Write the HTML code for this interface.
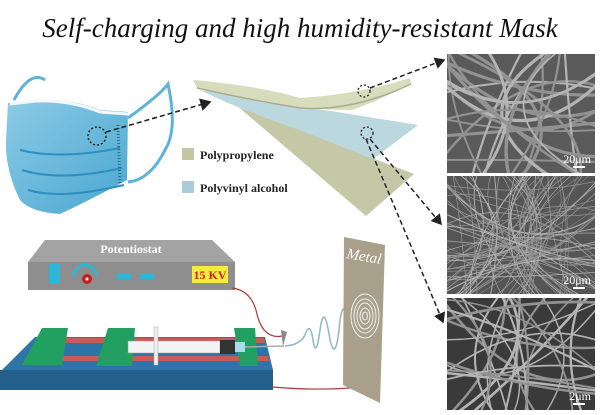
<!DOCTYPE html>
<html><head><meta charset="utf-8"><style>
html,body{margin:0;padding:0;background:#fff;width:600px;height:415px;overflow:hidden}
svg{display:block}
</style></head><body>
<svg width="600" height="415" viewBox="0 0 600 415" xmlns="http://www.w3.org/2000/svg">
<defs>
<linearGradient id="mk" x1="0" y1="0" x2="1" y2="1"><stop offset="0" stop-color="#8ccbe6"/><stop offset="1" stop-color="#4aa6d0"/></linearGradient>
<marker id="ah" markerWidth="8" markerHeight="8" refX="6" refY="4" orient="auto"><path d="M0,0 L7,4 L0,8 Z" fill="#222"/></marker>
</defs>
<text x="300" y="37" text-anchor="middle" font-family="Liberation Serif,serif" font-style="italic" font-size="27" fill="#111">Self-charging and high humidity-resistant Mask</text>

<!-- mask -->
<path d="M14,100 Q30,70 45,80" stroke="#5fb2dc" stroke-width="3" fill="none"/>
<path d="M128,118 Q160,95 168,84 Q178,130 165,150 Q150,180 128,182" stroke="#5fb2dc" stroke-width="3" fill="none"/>
<path d="M8,103 L35,100 Q70,98 100,110 L128,112 L127,180 Q90,200 60,214 Q30,212 20,200 Q5,170 6,140 Z" fill="url(#mk)"/>
<path d="M10,104 L36,101 Q70,100 100,112 L128,114" stroke="#f4f8fa" stroke-width="3" fill="none"/>
<path d="M20,150 Q60,160 120,148 M22,170 Q60,182 122,168 M28,190 Q60,200 124,185" stroke="#2f8ec0" stroke-width="2" fill="none"/>
<path d="M118,125 L120,185" stroke="#2a6f99" stroke-width="3" stroke-dasharray="1 2" fill="none"/>
<circle cx="97" cy="136" r="9" fill="none" stroke="#222" stroke-width="1.5" stroke-dasharray="2 2"/>
<line x1="106" y1="132" x2="210" y2="102" stroke="#222" stroke-width="1.6" stroke-dasharray="5 3" marker-end="url(#ah)"/>

<!-- sheets -->
<path d="M235,104 L372,158 L414,174 L366,216 Z" fill="#c4c8a6"/>
<path d="M200,90 L418,125 L373,159 L300,130 Q240,110 200,90 Z" fill="#bcd8df"/>
<path d="M193,80 Q260,86 300,98 Q360,94 410,78 L411,84 Q380,100 352,110 Q300,110 250,100 Q215,93 197,88 Z" fill="#d7dcbd"/>
<path d="M197,88 Q250,100 300,108 Q352,112 411,84" stroke="#a9ad8e" stroke-width="1.5" fill="none"/>
<circle cx="364" cy="91" r="6" fill="none" stroke="#222" stroke-width="1.3" stroke-dasharray="2 2"/>
<circle cx="367" cy="133" r="6" fill="none" stroke="#222" stroke-width="1.3" stroke-dasharray="2 2"/>
<line x1="370" y1="88" x2="444" y2="60" stroke="#222" stroke-width="1.5" stroke-dasharray="5 3" marker-end="url(#ah)"/>
<line x1="370" y1="139" x2="441" y2="224" stroke="#222" stroke-width="1.5" stroke-dasharray="5 3" marker-end="url(#ah)"/>
<line x1="366" y1="139" x2="443" y2="322" stroke="#222" stroke-width="1.5" stroke-dasharray="5 3" marker-end="url(#ah)"/>

<rect x="182" y="148" width="12" height="12" fill="#c4c5a2"/>
<text x="200" y="159" font-family="Liberation Serif,serif" font-weight="bold" font-size="12" fill="#222">Polypropylene</text>
<rect x="182" y="181" width="12" height="12" fill="#a9cdd6"/>
<text x="200" y="192" font-family="Liberation Serif,serif" font-weight="bold" font-size="12" fill="#222">Polyvinyl alcohol</text>

<!-- potentiostat -->
<path d="M45,240 L212,240 L235,262 L28,262 Z" fill="#a3a3a3"/>
<rect x="28" y="262" width="207" height="28" fill="#8e8e8e"/>
<text x="131" y="253" text-anchor="middle" font-family="Liberation Serif,serif" font-weight="bold" font-size="12" fill="#fff">Potentiostat</text>
<rect x="49" y="264" width="11" height="20" fill="#2eb6d6"/>
<path d="M74,276 A11,11 0 0 1 96,276" stroke="#2eb6d6" stroke-width="3" fill="none"/>
<circle cx="87" cy="279" r="5" fill="#c81e1e"/><circle cx="87" cy="279" r="1.5" fill="#fff"/>
<rect x="117" y="273" width="14" height="6" fill="#2eb6d6"/><rect x="140" y="273" width="14" height="6" fill="#2eb6d6"/>
<rect x="192" y="266" width="36" height="17" fill="#f3ec3c"/>
<text x="210" y="279" text-anchor="middle" font-family="Liberation Serif,serif" font-weight="bold" font-size="12" fill="#d2201e">15 KV</text>
<path d="M232,288 Q250,290 256,310 Q262,340 282,336" stroke="#b23a3a" stroke-width="1.2" fill="none"/>

<!-- base -->
<path d="M35,337 L265,337 L273,370 L0,372 Z" fill="#2d74a8"/>
<rect x="0" y="370" width="273" height="20" fill="#245f8c"/>
<path d="M62,338 L264,338 L265,343 L58,343 Z" fill="#c85a5a"/>
<path d="M45,356 L268,356 L269,361 L40,361 Z" fill="#c85a5a"/>
<path d="M42,328 L68,328 L62,365 L22,365 Z" fill="#22a062"/>
<path d="M108,328 L135,328 L132,366 L96,366 Z" fill="#22a062"/>
<path d="M234,328 L255,328 L258,366 L240,366 Z" fill="#22a062"/>
<rect x="128" y="341" width="92" height="12" fill="#f2f4f5" stroke="#999" stroke-width="0.5"/>
<rect x="220" y="340" width="15" height="14" fill="#333"/>
<rect x="235" y="342" width="10" height="10" fill="#a8dcea"/>
<line x1="245" y1="347" x2="284" y2="346" stroke="#aaa" stroke-width="1.5"/>
<rect x="154" y="327" width="4" height="38" fill="#eee" stroke="#aaa" stroke-width="0.5"/>
<path d="M281,330 L283,346 L287,332 Z" fill="#888"/>
<path d="M285,346 Q300,345 305,335 Q310,320 313,340 Q316,360 320,330 Q324,300 330,340 Q336,365 340,320 Q344,295 350,325 Q355,330 362,318" stroke="#8fb7c7" stroke-width="1.5" fill="none"/>
<path d="M272,387 Q330,392 378,385" stroke="#b23a3a" stroke-width="1.2" fill="none"/>

<!-- metal -->
<path d="M344,237 L385,245 L380,403 L343,385 Z" fill="#a8a08a"/>
<text x="346" y="258" font-family="Liberation Serif,serif" font-style="italic" font-size="15" fill="#fff" transform="rotate(10 346 258)">Metal</text>
<g fill="none" stroke="#eef2f2" stroke-width="1">
<ellipse cx="365" cy="316" rx="14" ry="22"/><ellipse cx="365" cy="316" rx="11" ry="17"/><ellipse cx="365" cy="316" rx="8" ry="13"/><ellipse cx="365" cy="316" rx="5" ry="8"/><ellipse cx="365" cy="316" rx="2.5" ry="4"/>
</g>

<!-- SEM panels -->
<g id="sem"></g>
</svg>
<script>
(function(){
var g=document.getElementById('sem');var ns='http://www.w3.org/2000/svg';
var seed=7;function r(){seed=(seed*16807)%2147483647;return seed/2147483647;}
var P=[[447,54,148,119,'#5a5a5a',26,2.4,'20μm'],[447,176,148,118,'#555555',80,0.8,'20μm'],[447,298,148,112,'#3a3a3a',28,2.0,'2μm']];
P.forEach(function(p){
 var x=p[0],y=p[1],w=p[2],h=p[3];
 var cp=document.createElementNS(ns,'clipPath');cp.id='c'+y;var cr=document.createElementNS(ns,'rect');
 cr.setAttribute('x',x);cr.setAttribute('y',y);cr.setAttribute('width',w);cr.setAttribute('height',h);cp.appendChild(cr);g.appendChild(cp);
 var rc=document.createElementNS(ns,'rect');rc.setAttribute('x',x);rc.setAttribute('y',y);rc.setAttribute('width',w);rc.setAttribute('height',h);rc.setAttribute('fill',p[4]);g.appendChild(rc);
 var gg=document.createElementNS(ns,'g');gg.setAttribute('clip-path','url(#c'+y+')');g.appendChild(gg);
 for(var i=0;i<p[5];i++){var l=document.createElementNS(ns,'path');
  var x1=x+r()*w,x2=x+r()*w,vert=r()<0.6;
  var d=vert?('M'+x1+','+(y-5)+' Q'+(x+r()*w)+','+(y+h/2)+' '+x2+','+(y+h+5)):('M'+(x-5)+','+(y+r()*h)+' Q'+(x+w/2)+','+(y+r()*h)+' '+(x+w+5)+','+(y+r()*h));
  l.setAttribute('d',d);l.setAttribute('fill','none');l.setAttribute('stroke',r()<0.5?'#b4b4b4':'#929292');l.setAttribute('stroke-width',(p[6]*(0.6+r()*0.8)).toFixed(2));gg.appendChild(l);}
 var t=document.createElementNS(ns,'text');t.setAttribute('x',x+w-4);t.setAttribute('y',y+h-10);t.setAttribute('text-anchor','end');t.setAttribute('font-family','Liberation Serif,serif');t.setAttribute('font-size','12');t.setAttribute('fill','#fff');t.textContent=p[7];g.appendChild(t);
 var b=document.createElementNS(ns,'rect');b.setAttribute('x',x+w-22);b.setAttribute('y',y+h-7);b.setAttribute('width',12);b.setAttribute('height',2);b.setAttribute('fill','#fff');g.appendChild(b);
});
})();
</script>
</body></html>
